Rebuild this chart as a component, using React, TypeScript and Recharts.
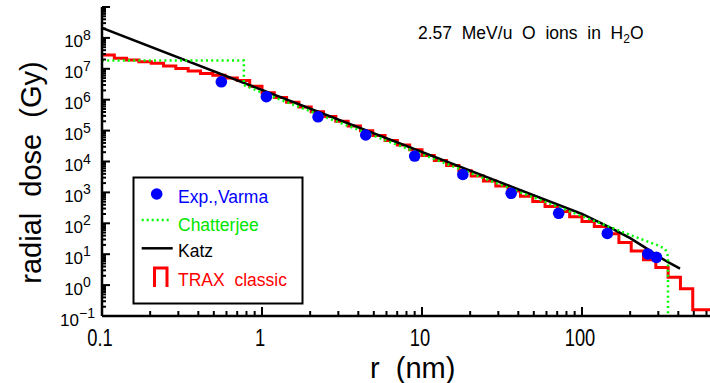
import React from 'react';
import { ComposedChart, Line, XAxis, YAxis, Customized } from 'recharts';

// Exp., Varma: measured radial dose points
const varmaR = [0.557, 1.065, 2.24, 4.45, 9.0, 18.0, 36.1, 71.5, 144, 258, 292];
const varmaDose = [3.8e6, 1.25e6, 2.8e5, 7.2e4, 1.5e4, 3.8e3, 935, 211, 47, 10.2, 7.9];

// Katz model curve
const katzR = [0.1, 100, 150, 200, 250, 300, 350, 410];
const katzDose = [2.1e8, 200, 72, 33, 16, 8.5, 5.3, 3.4];

// Chatterjee core/penumbra model (core up to 0.77 nm, cut-off near 345 nm)
const chatR = [0.1, 0.77, 0.77, 1, 10, 100, 200, 300, 330, 340, 345, 345];
const chatDose = [1.85e7, 1.85e7, 3.0e6, 1.7e6, 1.7e4, 170, 42, 19, 15, 11, 8, 0.01];

// TRAX classic histogram: lower bin edges and dose per bin
const traxEdges = [
  0.1, 0.1194, 0.1425, 0.1701, 0.2031, 0.2424, 0.2894, 0.3455, 0.4125, 0.4924,
  0.5878, 0.7017, 0.8377, 1, 1.194, 1.425, 1.701, 2.031, 2.424, 2.894,
  3.455, 4.125, 4.924, 5.878, 7.017, 8.377, 10, 11.94, 14.25, 17.01,
  20.31, 24.24, 28.94, 34.55, 41.25, 49.24, 58.78, 70.17, 83.77, 100,
  119.4, 142.5, 170.1, 203.1, 242.4, 289.4, 345.5, 412.5, 492.4, 587.8, 701.7,
];
const traxDose = [
  2.82e7, 2.19e7, 1.91e7, 1.7e7, 1.51e7, 1.23e7, 1.02e7, 8.5e6, 7.1e6, 6.2e6,
  5.0e6, 4.2e6, 2.7e6, 1.67e6, 1.17e6, 8.2e5, 5.8e5, 4.1e5, 2.84e5, 2.0e5,
  1.4e5, 9.8e4, 6.9e4, 4.8e4, 3.4e4, 2.4e4, 1.57e4, 1.08e4, 7.4e3, 5.0e3,
  3.4e3, 2.34e3, 1.6e3, 1.1e3, 748, 512, 349, 239, 163, 115,
  79, 46, 24, 12.6, 6.6, 3.7, 1.78, 0.76, 0.16, 0.16,
];

const xMajor = [0.1, 1, 10, 100];
const xMajorLabels = ['0.1', '1', '10', '100'];
const yExponents = [-1, 0, 1, 2, 3, 4, 5, 6, 7, 8, 9];
const yLabelExponents = ['\u22121', '0', '1', '2', '3', '4', '5', '6', '7', '8'];

const legendNames = ['Exp.,Varma', 'Chatterjee', 'Katz', 'TRAX  classic'];
const title = { main: '2.57  MeV/u  O  ions  in  H', sub: '2', tail: 'O' };
const xTitle = 'r  (nm)';
const yTitle = 'radial  dose  (Gy)';

const BLUE = '#0000ff';
const GREEN = '#00ff00';
const RED = '#ff0000';
const FONT = '"Liberation Sans", Arial, sans-serif';

const X_DOMAIN: [number, number] = [0.1, 659];
const Y_DOMAIN: [number, number] = [0.1, 1e9];

const varmaData = varmaR.map((r, i) => ({ r, d: varmaDose[i] }));
const katzData = katzR.map((r, i) => ({ r, d: katzDose[i] }));
const chatData = chatR.map((r, i) => ({ r, d: chatDose[i] }));
const traxData = traxEdges.map((r, i) => ({ r, d: traxDose[Math.min(i, traxDose.length - 1)] }));

const xTicks: number[] = [];
xMajor.forEach((m) => {
  for (let k = 1; k <= 9; k++) xTicks.push(+(m * k).toPrecision(6));
});
const yTicks: number[] = [];
yExponents.forEach((e) => {
  const base = Math.pow(10, e);
  const top = e === 9 ? 1 : 9;
  for (let k = 1; k <= top; k++) yTicks.push(+(base * k).toPrecision(6));
});

const isMajor = (v: number) => Math.abs(Math.log10(v) - Math.round(Math.log10(v))) < 1e-6;

const BottomTick = (props: any) => {
  const { x, y, payload } = props;
  const v = payload.value;
  const major = isMajor(v);
  const idx = xMajor.findIndex((m) => Math.abs(m - v) < 1e-9);
  return (
    <g>
      <line x1={x} x2={x} y1={y} y2={y - (major ? 9 : 5)} stroke="#000" strokeWidth={2} />
      {idx >= 0 && (
        <text
          transform={`translate(${x - 2},${y + 29.7}) scale(0.78,1)`}
          textAnchor="middle"
          fontSize={23.5}
          fontFamily={FONT}
          fill="#000"
        >
          {xMajorLabels[idx]}
        </text>
      )}
    </g>
  );
};

const TopTick = (props: any) => {
  const { x, y, payload } = props;
  const major = isMajor(payload.value);
  return <line x1={x} x2={x} y1={y} y2={y + (major ? 9 : 5)} stroke="#000" strokeWidth={2} />;
};

const LeftTick = (props: any) => {
  const { x, y, payload } = props;
  const v = payload.value;
  const major = isMajor(v);
  const e = Math.round(Math.log10(v));
  const idx = major ? yExponents.indexOf(e) : -1;
  return (
    <g>
      <line x1={x} x2={x + (major ? 8 : 4)} y1={y} y2={y} stroke="#000" strokeWidth={2} />
      {idx >= 0 && idx < yLabelExponents.length && (
        <text x={x - 24.5} y={y + 9.5} textAnchor="middle" fontSize={17} fontFamily={FONT} fill="#000">
          <tspan>10</tspan>
          <tspan dy={-7.5} fontSize={14}>
            {yLabelExponents[idx]}
          </tspan>
        </text>
      )}
    </g>
  );
};

const RightTick = (props: any) => {
  const { x, y, payload } = props;
  const major = isMajor(payload.value);
  return <line x1={x} x2={x - (major ? 8 : 4)} y1={y} y2={y} stroke="#000" strokeWidth={2} />;
};

const Decorations = () => (
  <g fontFamily={FONT}>
    <text x={418} y={39} fontSize={17.5} fill="#000" style={{ whiteSpace: 'pre' }}>
      <tspan>{title.main}</tspan>
      <tspan fontSize={12} dy={4}>
        {title.sub}
      </tspan>
      <tspan dy={-4}>{title.tail}</tspan>
    </text>

    <text x={370} y={378} fontSize={29} fill="#000" style={{ whiteSpace: 'pre' }}>
      {xTitle}
    </text>
    <text
      transform="rotate(-90)"
      x={-172.5}
      y={41}
      textAnchor="middle"
      fontSize={29}
      fill="#000"
      style={{ whiteSpace: 'pre' }}
    >
      {yTitle}
    </text>

    <rect x={133.5} y={177.5} width={169} height={126} fill="#fff" stroke="#000" strokeWidth={2} />
    <circle cx={156.7} cy={194} r={5.8} fill={BLUE} />
    <text x={178} y={203.3} fontSize={17.5} fill={BLUE}>
      {legendNames[0]}
    </text>
    <line x1={141.7} x2={171.7} y1={220} y2={220} stroke={GREEN} strokeWidth={2.5} strokeDasharray="2 3" />
    <text x={178} y={230.7} fontSize={17.5} fill="#00e600">
      {legendNames[1]}
    </text>
    <line x1={141.7} x2={172.7} y1={248.3} y2={248.3} stroke="#000" strokeWidth={2.5} />
    <text x={178} y={257.3} fontSize={17.5} fill="#000">
      {legendNames[2]}
    </text>
    <path d="M154.5 287 V268 H167 V287" stroke={RED} strokeWidth={3} fill="none" />
    <text x={178} y={286} fontSize={17.5} fill={RED} style={{ whiteSpace: 'pre' }}>
      {legendNames[3]}
    </text>
  </g>
);

export default function App() {
  return (
    <div
      style={{
        position: 'absolute',
        left: 0,
        top: 0,
        width: 710,
        height: 383,
        overflow: 'hidden',
        background: '#fff',
      }}
    >
      <ComposedChart width={716} height={383} margin={{ top: 7, right: 3, bottom: 7, left: 0 }}>
        <XAxis
          xAxisId="b"
          dataKey="r"
          type="number"
          scale="log"
          domain={X_DOMAIN}
          allowDataOverflow
          ticks={xTicks}
          interval={0}
          height={60}
          tickSize={0}
          tickMargin={0}
          tickLine={false}
          tick={<BottomTick />}
          axisLine={{ stroke: '#000', strokeWidth: 2.5 }}
        />
        <XAxis
          xAxisId="t"
          orientation="top"
          dataKey="r"
          type="number"
          scale="log"
          domain={X_DOMAIN}
          allowDataOverflow
          ticks={xTicks}
          interval={0}
          height={0}
          tickSize={0}
          tickMargin={0}
          tickLine={false}
          tick={<TopTick />}
          axisLine={{ stroke: '#000', strokeWidth: 2.5 }}
        />
        <YAxis
          yAxisId="l"
          dataKey="d"
          type="number"
          scale="log"
          domain={Y_DOMAIN}
          allowDataOverflow
          ticks={yTicks}
          interval={0}
          width={102}
          tickSize={0}
          tickMargin={0}
          tickLine={false}
          tick={<LeftTick />}
          axisLine={{ stroke: '#000', strokeWidth: 2.5 }}
        />
        <YAxis
          yAxisId="rt"
          orientation="right"
          dataKey="d"
          type="number"
          scale="log"
          domain={Y_DOMAIN}
          allowDataOverflow
          ticks={yTicks}
          interval={0}
          width={0}
          tickSize={0}
          tickMargin={0}
          tickLine={false}
          tick={<RightTick />}
          axisLine={{ stroke: '#000', strokeWidth: 2.5 }}
        />

        <Line
          xAxisId="b"
          yAxisId="l"
          data={varmaData}
          dataKey="d"
          stroke="none"
          strokeWidth={0}
          dot={{ r: 5.8, fill: BLUE, stroke: 'none' }}
          activeDot={false}
          isAnimationActive={false}
        />
        <Line
          xAxisId="b"
          yAxisId="l"
          data={traxData}
          dataKey="d"
          type="stepAfter"
          stroke={RED}
          strokeWidth={3}
          dot={false}
          activeDot={false}
          isAnimationActive={false}
        />
        <Line
          xAxisId="b"
          yAxisId="l"
          data={katzData}
          dataKey="d"
          type="linear"
          stroke="#000"
          strokeWidth={2.5}
          dot={false}
          activeDot={false}
          isAnimationActive={false}
        />
        <Line
          xAxisId="b"
          yAxisId="l"
          data={chatData}
          dataKey="d"
          type="linear"
          stroke={GREEN}
          strokeWidth={2.5}
          strokeDasharray="2 3.2"
          dot={false}
          activeDot={false}
          isAnimationActive={false}
        />
        <Customized component={Decorations} />
      </ComposedChart>
    </div>
  );
}
